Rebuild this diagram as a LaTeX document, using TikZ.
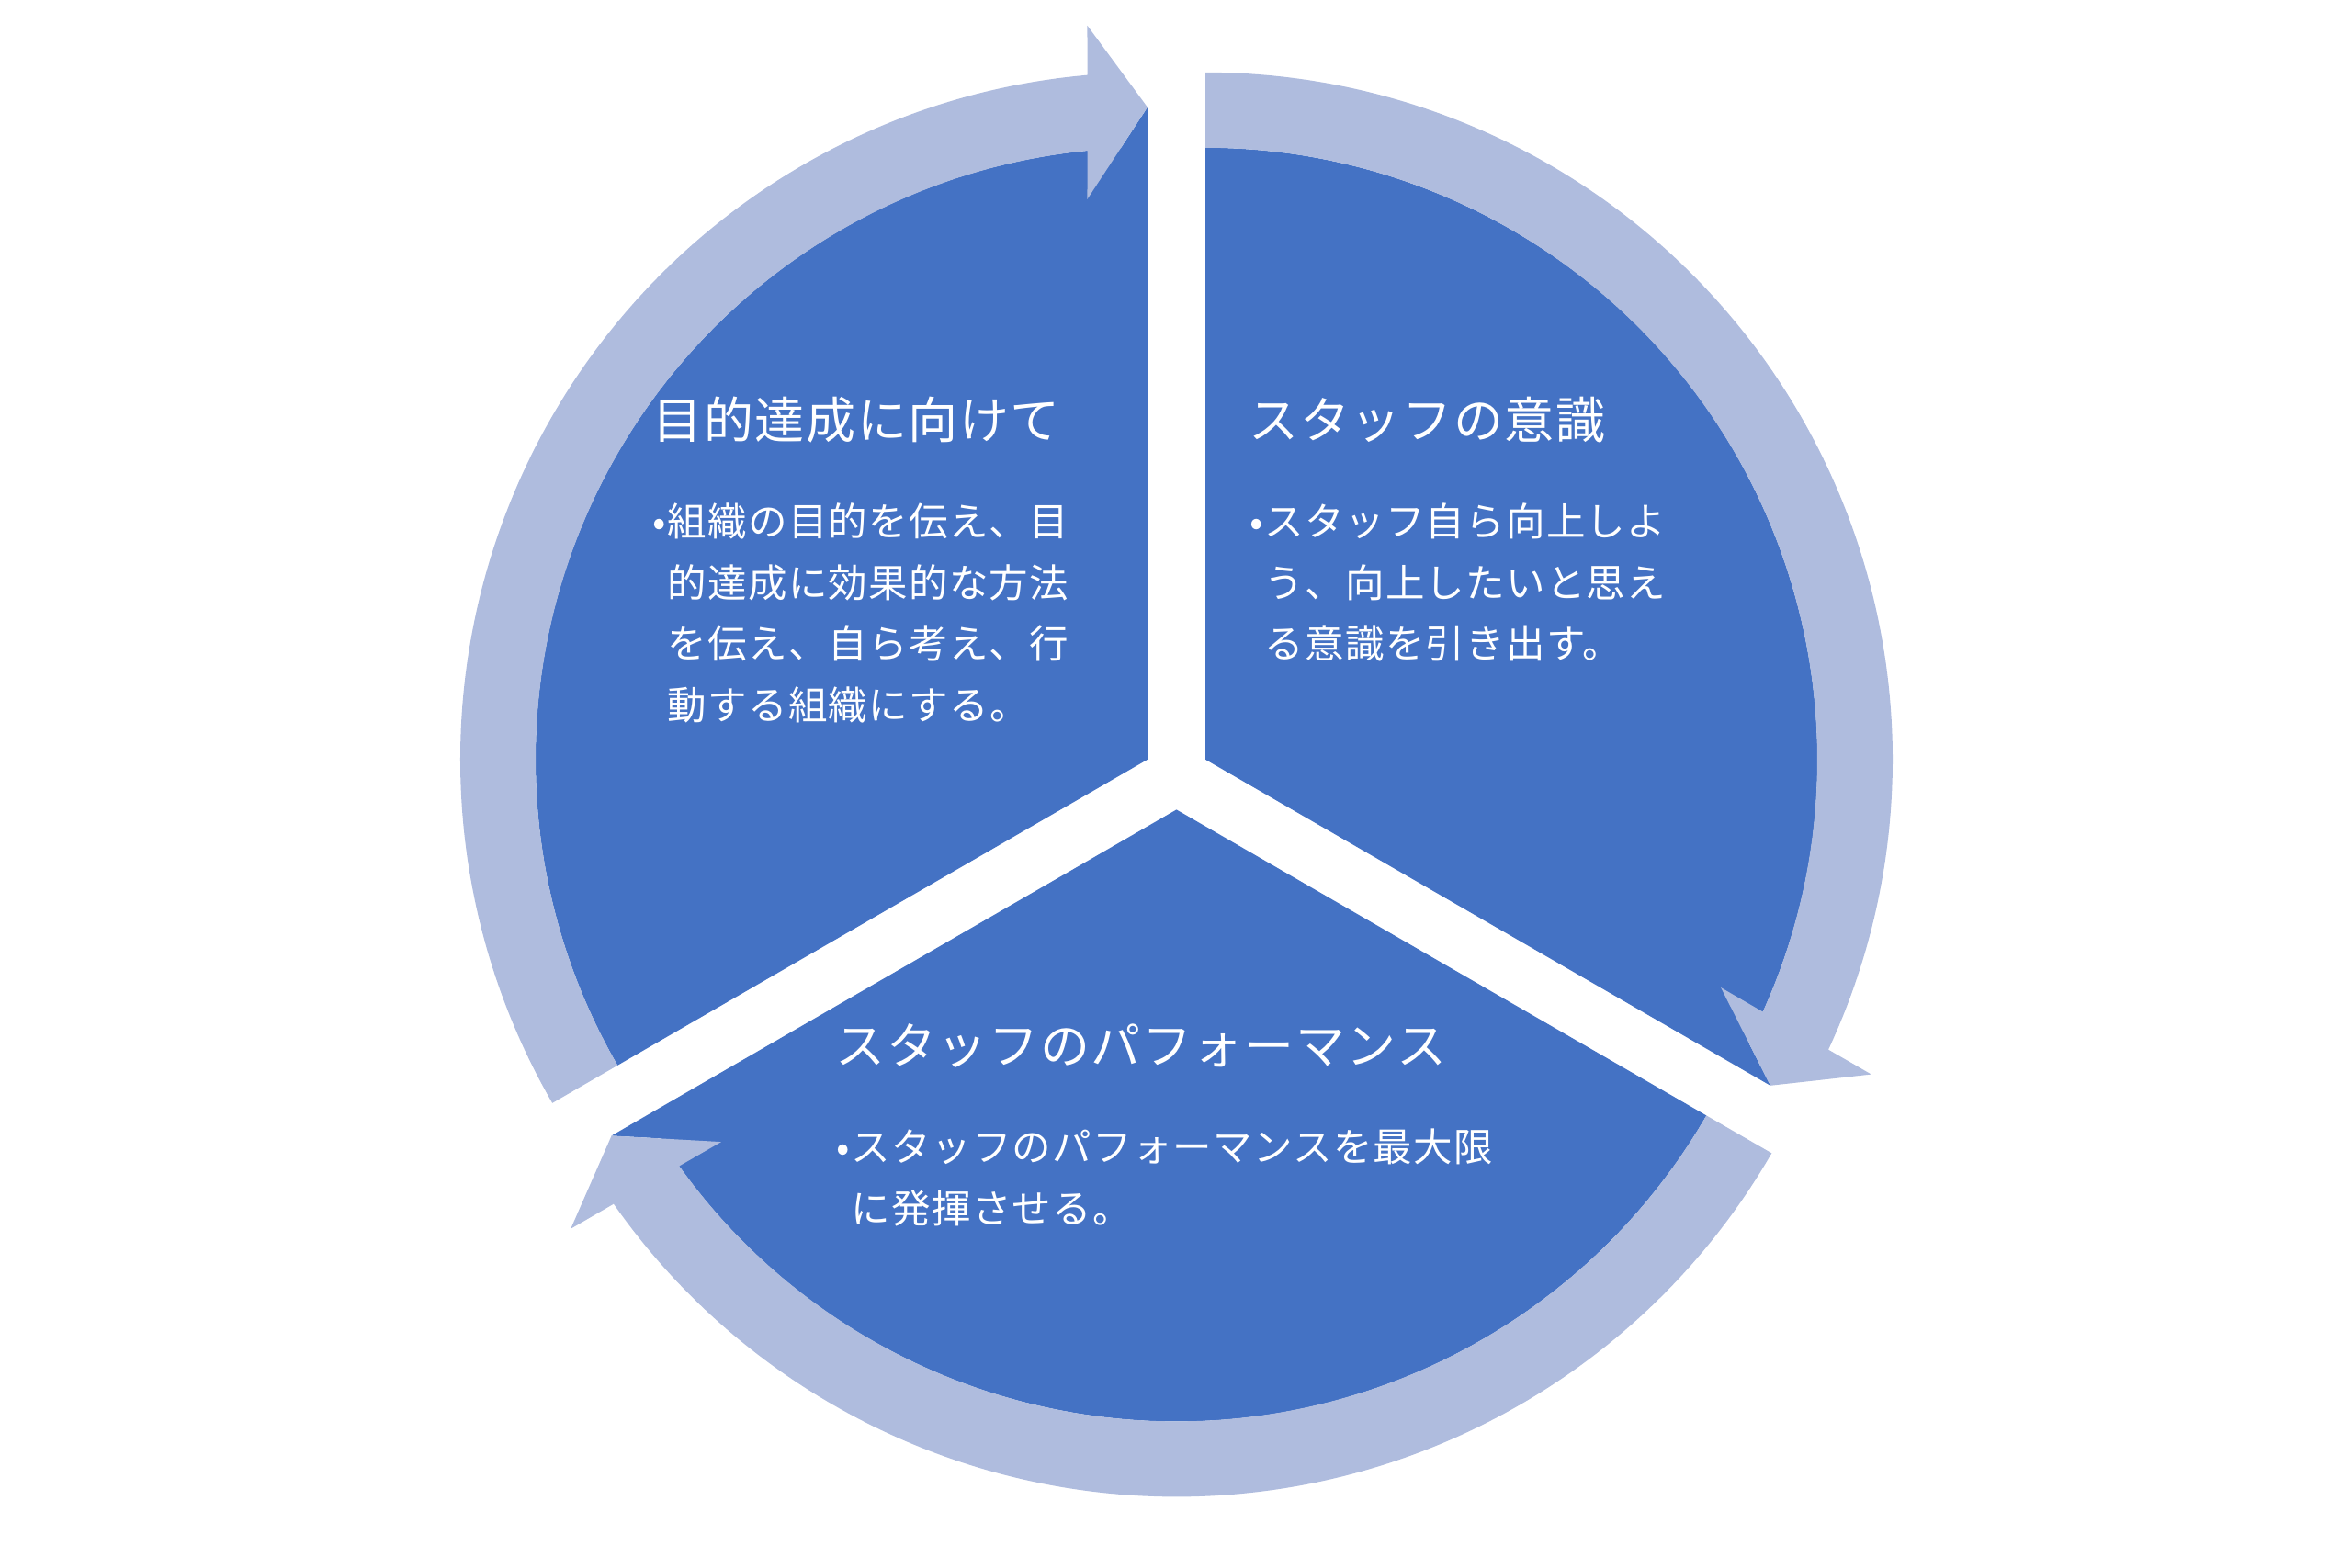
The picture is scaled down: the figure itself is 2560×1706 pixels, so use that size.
\documentclass[tikz,border=0pt]{standalone}
\usepackage{fontspec}
\setmainfont{Noto Sans CJK JP}[LetterSpace=3]
\usetikzlibrary{calc}
\definecolor{pieblue}{HTML}{4472C4}
\definecolor{ringblue}{HTML}{AFBCDE}

\begin{document}
\begin{tikzpicture}[x=0.1mm, y=0.1mm,
                    sector/.style={fill=pieblue},
                    ring/.style={fill=ringblue},
                    title/.style={anchor=base west, inner sep=0, text=white,
                                  font=\fontsize{5.4mm}{6.6mm}\selectfont},
                    body/.style={anchor=north west, inner sep=0, text=white,
                                 align=left,
                                 font=\fontsize{4.25mm}{6.67mm}\selectfont}]
    \useasboundingbox (0,0) rectangle (2560,1706);

    % centres of the three pieces
    \coordinate (mid) at (1280.5,861);
    \coordinate (zielC) at ($(mid)+(150:36.4)$);
    \coordinate (bewuC) at ($(mid)+(30:36.4)$);
    \coordinate (leisC) at ($(mid)+(270:36.4)$);

    % pie pieces (each one reaches out to the tip of its arrow)
    \fill[sector, shift={(zielC)}, rotate=90]
        (0,0) -- (710,0) -- (2.51:666) arc[start angle=2.51, end angle=120, radius=666] -- cycle;
    \fill[sector, shift={(bewuC)}, rotate=-30]
        (0,0) -- (710,0) -- (2.51:666) arc[start angle=2.51, end angle=120, radius=666] -- cycle;
    \fill[sector, shift={(leisC)}, rotate=210]
        (0,0) -- (710,0) -- (2.51:666) arc[start angle=2.51, end angle=120, radius=666] -- cycle;

    % ring arrows
    \fill[ring, shift={(zielC)}, rotate=90]
        (120:666) -- (120:748) arc[start angle=120, end angle=5.02, radius=748]
        -- (799,65.5) -- (710,0) -- (610,65.5)
        -- (5.64:666) arc[start angle=5.64, end angle=120, radius=666] -- cycle;
    \fill[ring, shift={(bewuC)}, rotate=-30]
        (120:666) -- (120:748) arc[start angle=120, end angle=5.02, radius=748]
        -- (799,65.5) -- (710,0) -- (610,65.5)
        -- (5.64:666) arc[start angle=5.64, end angle=120, radius=666] -- cycle;
    \fill[ring, shift={(leisC)}, rotate=210]
        (120:666) -- (120:748) arc[start angle=120, end angle=5.02, radius=748]
        -- (799,65.5) -- (710,0) -- (610,65.5)
        -- (5.64:666) arc[start angle=5.64, end angle=120, radius=666] -- cycle;

    % texts
    \node[title] (zielTitle) at (710,1228) {目的達成に向けて};
    \node[body] (zielText) at (710,1159)
        {\makebox[1.6mm][l]{•}組織の目的を伝え、目\\
         \hspace*{1.6mm}的達成に効果的な方法\\
         \hspace*{1.6mm}を伝え、自ら考え、行\\
         \hspace*{1.6mm}動する組織にする。};

    \node[title] (bewuTitle) at (1359,1228) {スタッフの意識};
    \node[body] (bewuText) at (1360,1159)
        {\makebox[1.6mm][l]{•}スタッフ自ら向上しよ\\
         \hspace*{1.6mm}う、向上したいと思え\\
         \hspace*{1.6mm}る意識を引き出す。};

    \node[title] (leisTitle) at (909,547.5) {スタッフのパフォーマンス};
    \node[body] (leisText) at (910,478)
        {\makebox[1.6mm][l]{•}スタッフのパフォーマンスを最大限\\
         \hspace*{1.6mm}に発揮させる。};
\end{tikzpicture}
\end{document}
